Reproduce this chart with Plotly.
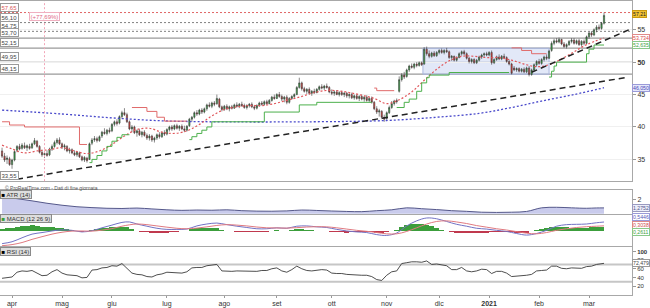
import pandas as pd
import plotly.graph_objects as go

# ---------------- trading days (Borsa Italiana) ----------------
holidays = ["2020-04-10", "2020-04-13", "2020-05-01", "2020-12-24",
            "2020-12-25", "2020-12-31", "2021-01-01"]
dates = [d for d in pd.bdate_range("2020-03-26", "2021-03-10")
         if d.strftime("%Y-%m-%d") not in holidays]
bars = list(range(len(dates)))
month_names = ["apr", "mag", "giu", "lug", "ago", "set", "ott", "nov", "dic",
               "<b>2021</b>", "feb", "mar"]

# ---------------- OHLC ----------------
open_ = [36.3, 35.5, 35.0, 35.1, 34.2, 34.9, 36.4, 37.0, 36.7, 37.1, 36.8, 37.0, 36.8, 37.4,
         37.8, 37.0, 36.1, 35.7, 35.9, 35.7, 36.6, 37.0, 37.6, 38.0,
         37.4, 36.9, 37.0, 36.3, 36.5, 36.0, 35.7, 36.0, 35.4, 34.9,
         35.2, 35.0, 37.5, 38.0, 38.2, 37.9, 38.6, 39.2, 39.0, 39.5,
         39.4, 40.4, 40.8, 40.6, 41.6, 42.2, 41.9, 40.8, 39.7, 40.0,
         39.1, 39.4, 38.8, 39.2, 38.7, 38.3, 38.6, 38.0, 38.3, 38.8,
         38.5, 39.1, 38.9, 39.6, 40.0, 39.7, 40.2, 39.8, 40.1, 39.7,
         39.5, 40.2, 41.2, 41.5, 42.2, 42.0, 42.6, 42.3, 42.8, 43.4,
         43.2, 43.7, 43.6, 44.3, 43.1, 42.7, 43.2, 42.8, 43.1, 42.9,
         43.4, 43.2, 43.5, 43.3, 43.0, 43.3, 43.5, 43.1, 42.9, 43.3,
         43.7, 43.5, 43.9, 43.6, 44.1, 44.6, 44.4, 45.0, 44.7, 44.3,
         44.6, 43.8, 44.4, 44.7, 45.0, 46.1, 46.8, 45.9, 45.5, 45.8,
         45.2, 45.5, 45.3, 45.8, 46.2, 46.0, 46.3, 46.1, 45.4, 45.2,
         45.4, 45.0, 45.3, 45.0, 45.2, 44.8, 45.0, 44.5, 44.8, 44.4,
         44.7, 44.3, 44.6, 44.1, 44.4, 43.8, 42.8, 42.3, 42.4, 41.5,
         41.3, 42.2, 43.0, 43.6, 44.1, 45.5, 47.3, 48.0, 47.8, 48.8,
         49.4, 49.2, 49.7, 49.5, 49.9, 49.7, 52.0, 51.3, 50.9, 51.4,
         51.0, 51.5, 51.8, 51.5, 51.8, 51.6, 50.7, 50.9, 50.3, 50.7,
         51.3, 51.6, 51.3, 50.6, 50.1, 50.4, 49.9, 50.3, 50.8, 51.1,
         51.3, 51.1, 51.5, 49.9, 50.4, 50.8, 50.5, 50.9, 50.7, 50.1,
         49.7, 49.1, 48.8, 49.0, 48.6, 48.9, 48.5, 49.1, 48.1, 48.8,
         49.6, 50.1, 49.8, 50.4, 50.8, 50.6, 51.8, 52.9, 53.3, 53.1,
         53.5, 52.8, 52.4, 52.7, 53.2, 53.4, 52.9, 53.3, 52.7, 53.2,
         52.9, 53.9, 54.5, 54.2, 55.0, 55.4, 55.2, 56.0]
high = [36.8, 36.0, 35.6, 35.4, 35.1, 36.4, 37.2, 37.4, 37.5, 37.6, 37.3, 37.4, 37.6, 38.3,
        38.0, 37.2, 36.5, 36.2, 36.4, 36.8, 37.3, 37.9, 38.3, 38.4,
        37.6, 37.4, 37.2, 36.8, 36.7, 36.4, 36.3, 36.2, 35.6, 35.5,
        35.4, 37.6, 38.3, 38.6, 38.5, 38.7, 39.4, 39.8, 39.7, 39.9,
        40.6, 41.0, 41.2, 41.8, 42.5, 42.9, 42.2, 41.0, 40.3, 40.2,
        39.6, 39.7, 39.4, 39.5, 39.0, 38.9, 38.8, 38.5, 39.0, 39.2,
        39.3, 39.5, 39.8, 40.2, 40.3, 40.4, 40.5, 40.3, 40.4, 40.2,
        40.3, 41.4, 41.7, 42.4, 42.6, 42.8, 42.9, 43.0, 43.6, 43.8,
        43.9, 44.0, 45.0, 44.5, 43.3, 43.4, 43.5, 43.3, 43.4, 43.6,
        43.8, 43.7, 43.9, 43.6, 43.5, 43.7, 43.8, 43.4, 43.5, 43.9,
        44.0, 44.1, 44.2, 44.3, 44.8, 45.0, 45.2, 45.4, 45.0, 44.8,
        44.9, 44.6, 44.9, 45.2, 46.3, 47.6, 47.0, 46.2, 46.0, 46.1,
        45.7, 45.9, 46.0, 46.4, 46.6, 46.5, 46.7, 46.3, 45.8, 45.6,
        45.7, 45.5, 45.6, 45.4, 45.4, 45.2, 45.3, 45.0, 45.1, 44.9,
        45.0, 44.8, 44.9, 44.6, 44.7, 44.0, 43.2, 42.8, 42.6, 41.9,
        42.4, 43.3, 44.0, 44.2, 44.4, 47.8, 48.3, 48.5, 49.0, 49.6,
        49.8, 49.9, 50.0, 50.1, 50.1, 52.3, 52.4, 51.8, 51.6, 51.7,
        51.7, 52.0, 52.1, 52.0, 52.2, 51.8, 51.1, 51.0, 50.9, 51.5,
        51.8, 51.9, 51.5, 50.8, 50.6, 50.6, 50.5, 51.0, 51.3, 51.5,
        51.6, 51.7, 51.8, 50.6, 51.0, 51.2, 51.1, 51.3, 50.9, 50.4,
        49.9, 49.4, 49.2, 49.2, 49.1, 49.2, 49.3, 49.4, 49.0, 49.8,
        50.3, 50.5, 50.6, 51.0, 51.2, 51.9, 53.2, 53.6, 53.7, 53.8,
        53.6, 53.1, 52.9, 53.4, 53.7, 53.7, 53.5, 53.6, 53.4, 53.5,
        54.1, 54.7, 54.8, 55.2, 55.7, 55.8, 56.2, 57.65]
low = [35.2, 34.6, 34.3, 34.0, 33.55, 34.7, 36.1, 36.4, 36.5, 36.6, 36.3, 36.5, 36.6, 37.2,
       36.8, 35.9, 35.4, 35.2, 35.4, 35.5, 36.3, 36.8, 37.3, 37.2,
       36.6, 36.4, 36.1, 35.9, 35.8, 35.5, 35.4, 35.2, 34.7, 34.6,
       34.5, 34.9, 37.2, 37.7, 37.6, 37.7, 38.3, 38.8, 38.7, 39.0,
       39.2, 40.1, 40.2, 40.4, 41.3, 41.7, 40.6, 39.5, 39.2, 38.9,
       38.5, 38.6, 38.4, 38.5, 38.0, 37.9, 37.7, 37.6, 38.0, 38.2,
       38.3, 38.6, 38.7, 39.3, 39.4, 39.5, 39.6, 39.4, 39.5, 39.2,
       39.3, 40.0, 40.8, 41.3, 41.7, 41.8, 42.0, 42.1, 42.5, 43.0,
       42.9, 43.2, 43.4, 42.9, 42.4, 42.5, 42.6, 42.4, 42.7, 42.8,
       43.0, 42.9, 43.1, 42.8, 42.7, 43.0, 42.9, 42.6, 42.7, 43.1,
       43.3, 43.3, 43.4, 43.5, 43.9, 44.2, 44.3, 44.5, 44.0, 43.8,
       43.5, 43.6, 44.2, 44.4, 44.9, 45.9, 45.6, 45.3, 45.1, 45.0,
       44.8, 45.1, 45.2, 45.6, 45.8, 45.7, 45.9, 45.2, 44.9, 44.8,
       44.9, 44.7, 44.8, 44.6, 44.5, 44.4, 44.3, 44.2, 44.2, 44.0,
       44.1, 43.9, 43.9, 43.8, 43.6, 42.6, 42.0, 41.6, 41.2, 40.8,
       41.1, 42.0, 42.8, 43.3, 43.6, 45.3, 47.0, 47.4, 47.6, 48.5,
       49.0, 48.9, 49.2, 49.3, 49.4, 49.6, 51.0, 50.6, 50.7, 50.8,
       50.8, 51.2, 51.3, 51.2, 51.4, 50.5, 50.2, 50.1, 50.1, 50.6,
       51.0, 51.1, 50.4, 49.8, 49.8, 49.7, 49.7, 50.1, 50.5, 50.8,
       50.9, 50.9, 49.6, 49.7, 50.2, 50.3, 50.3, 50.5, 49.9, 49.5,
       48.1, 48.6, 48.5, 48.4, 48.4, 48.3, 48.3, 47.8, 47.9, 48.6,
       49.3, 49.6, 49.6, 50.1, 50.3, 50.5, 51.6, 52.6, 52.9, 52.9,
       52.6, 52.2, 52.1, 52.5, 52.9, 52.7, 52.7, 52.5, 52.4, 52.6,
       52.8, 53.6, 53.9, 54.0, 54.6, 54.9, 55.0, 55.8]
close = [35.5, 34.9, 35.2, 34.2, 34.9, 36.2, 37.0, 36.6, 37.2, 36.8, 37.1, 36.7, 37.4, 37.9,
         37.0, 36.1, 35.7, 35.9, 35.6, 36.6, 37.0, 37.6, 38.0, 37.4,
         36.9, 37.1, 36.3, 36.5, 36.0, 35.7, 36.1, 35.4, 34.9, 35.3,
         34.8, 37.4, 38.0, 38.2, 37.9, 38.5, 39.2, 39.0, 39.5, 39.3,
         40.4, 40.8, 40.5, 41.6, 42.2, 41.9, 40.8, 39.7, 40.0, 39.1,
         39.4, 38.8, 39.2, 38.7, 38.3, 38.6, 38.0, 38.3, 38.8, 38.5,
         39.1, 38.9, 39.6, 40.0, 39.7, 40.2, 39.8, 40.1, 39.7, 39.5,
         40.1, 41.2, 41.5, 42.2, 42.0, 42.6, 42.3, 42.8, 43.4, 43.2,
         43.7, 43.5, 44.4, 43.1, 42.7, 43.2, 42.8, 43.1, 42.9, 43.4,
         43.2, 43.5, 43.3, 43.0, 43.3, 43.5, 43.1, 42.9, 43.3, 43.7,
         43.5, 43.9, 43.6, 44.1, 44.6, 44.4, 45.0, 44.7, 44.3, 44.6,
         43.8, 44.4, 44.7, 45.0, 46.1, 46.8, 45.9, 45.5, 45.8, 45.2,
         45.5, 45.3, 45.8, 46.2, 46.0, 46.3, 46.1, 45.4, 45.2, 45.4,
         45.0, 45.3, 45.0, 45.2, 44.8, 45.0, 44.5, 44.8, 44.4, 44.7,
         44.3, 44.6, 44.1, 44.4, 43.8, 42.8, 42.3, 42.5, 41.5, 41.2,
         42.2, 43.0, 43.6, 44.0, 43.9, 47.3, 48.0, 47.7, 48.8, 49.4,
         49.2, 49.7, 49.5, 49.9, 49.6, 52.0, 51.3, 50.9, 51.4, 51.0,
         51.5, 51.8, 51.5, 51.8, 51.6, 50.7, 50.9, 50.3, 50.7, 51.3,
         51.6, 51.3, 50.6, 50.1, 50.4, 49.9, 50.3, 50.8, 51.1, 51.3,
         51.1, 51.5, 49.9, 50.4, 50.8, 50.5, 50.9, 50.7, 50.1, 49.7,
         48.3, 48.8, 49.0, 48.6, 48.9, 48.5, 49.1, 48.1, 48.8, 49.6,
         50.1, 49.8, 50.4, 50.8, 50.6, 51.7, 52.9, 53.3, 53.1, 53.5,
         52.8, 52.4, 52.7, 53.2, 53.4, 52.9, 53.3, 52.7, 53.2, 52.9,
         53.9, 54.5, 54.2, 55.0, 55.4, 55.2, 56.0, 57.21]

# ---------------- overlays on the price panel ----------------
ma_fast_bar = [0, 4, 9, 14, 19, 24, 29, 34, 39, 44, 49, 54, 59, 64, 69, 74, 79, 84, 89, 94,
               99, 104, 109, 114, 119, 124, 129, 134, 139, 144, 149, 154, 159, 164, 169, 174,
               179, 184, 189, 194, 199, 204, 209, 214, 219, 224, 229, 234, 241]
ma_fast = [37.2, 36.6, 36.0, 36.3, 36.5, 36.8, 36.3, 35.9, 36.3, 37.3, 38.6, 39.6, 39.8, 39.2,
           39.0, 39.4, 40.4, 41.7, 42.7, 43.1, 43.3, 43.3, 43.6, 44.1, 44.6, 45.2, 45.6, 45.6,
           45.3, 44.9, 44.4, 43.6, 44.2, 45.4, 47.2, 48.9, 50.2, 50.9, 50.9, 50.7, 50.7, 50.3,
           49.7, 49.3, 49.6, 50.5, 51.6, 52.7, 53.734]
ma_slow_bar = [0, 24, 44, 64, 84, 124, 154, 174, 191, 204, 216, 229, 241]
ma_slow = [42.6, 42.0, 41.4, 40.95, 40.8, 40.8, 41.0, 41.5, 42.1, 43.0, 44.0, 45.0, 46.05]

stop_red_bar = [0, 3, 9, 31, 34, None, 52, 58, 62, 65, 74, None, 149, 150, 157, None,
                204, 208, 212, 218]
stop_red = [40.8, 40.3, 40.0, 37.3, 37.3, None, 43.0, 42.4, 41.5, 40.9, 40.9, None,
            46.0, 45.6, 45.6, None, 52.2, 51.8, 51.3, 51.3]
stop_green_bar = [35, 36, 38, 40, 42, 44, 46, 48, 51, None,
                  75, 76, 78, 80, 82, 84, 105, 119, 126, 148, None,
                  158, 161, 163, 166, 168, 170, 171, 179, 203, None,
                  219, 220, 221, 222, 234, 235, 237, 241]
stop_green = [34.5, 35.0, 35.6, 36.3, 37.0, 37.8, 38.4, 38.8, 38.8, None,
              38.05, 38.5, 39.0, 39.5, 40.0, 40.8, 42.3, 43.4, 43.8, 43.8, None,
              43.0, 43.8, 44.3, 45.5, 46.8, 47.6, 48.0, 48.4, 48.4, None,
              47.7, 48.6, 49.4, 50.0, 51.3, 52.0, 52.64, 52.64]

levels = [57.65, 56.10, 54.75, 53.70, 52.15, 49.95, 48.15]
level_text = ["57,65", "56,10", "54,75", "53,70", "52,15", "49,95", "48,15"]
low_level, low_text = 33.55, "33,55"
box_bars, box_prices = [168.5, 219], [48.15, 52.15]
trend1_bar, trend1_price = [6, 250.4], [31.95, 47.67]
trend2_bar, trend2_price = [212, 252.2], [48.44, 55.2]
marker_bar, marker_text = 17, "(+77,69%)"

# ---------------- ATR ----------------
atr_bar = [0, 6, 12, 18, 24, 30, 36, 42, 48, 54, 60, 66, 72, 78, 84, 90, 96, 102, 108, 114,
           120, 126, 132, 138, 144, 150, 156, 162, 168, 174, 180, 186, 192, 198, 204, 210,
           216, 222, 228, 234, 238, 241]
atr = [2.30, 2.12, 1.92, 1.70, 1.52, 1.38, 1.30, 1.24, 1.22, 1.26, 1.18, 1.10, 1.05, 1.08,
       1.06, 1.10, 1.02, 0.98, 0.97, 1.00, 1.08, 1.04, 0.99, 0.95, 0.93, 1.02, 1.10, 1.28,
       1.20, 1.12, 1.02, 0.96, 0.88, 0.86, 0.88, 0.95, 1.28, 1.33, 1.28, 1.24, 1.27, 1.2752]

# ---------------- MACD ----------------
macd_bar = [0, 4, 8, 12, 16, 20, 24, 28, 32, 36, 40, 44, 48, 51, 54, 58, 62, 66, 70, 74,
            78, 82, 86, 90, 94, 98, 102, 106, 110, 114, 118, 122, 126, 130, 134, 138, 142,
            146, 150, 154, 158, 162, 166, 170, 174, 178, 182, 186, 190, 194, 198, 202, 206,
            210, 214, 218, 222, 226, 230, 234, 238, 241]
macd = [-0.82, -0.70, -0.45, -0.22, -0.12, -0.02, 0.05, 0.02, -0.08, 0.00,
        0.18, 0.35, 0.52, 0.55, 0.42, 0.28, 0.15, 0.08, 0.08, 0.10,
        0.30, 0.42, 0.48, 0.38, 0.28, 0.20, 0.12, 0.12, 0.18, 0.15,
        0.28, 0.30, 0.24, 0.20, 0.08, -0.02, -0.08, -0.12, -0.25, -0.30,
        -0.15, 0.30, 0.62, 0.80, 0.75, 0.58, 0.40, 0.28, 0.15, 0.10,
        0.02, -0.05, -0.18, -0.28, -0.18, 0.02, 0.28, 0.38, 0.40, 0.42,
        0.50, 0.5446]
signal = [-0.95, -0.88, -0.75, -0.55, -0.38, -0.22, -0.10, -0.03, -0.02, -0.03,
          0.03, 0.13, 0.28, 0.37, 0.42, 0.38, 0.30, 0.22, 0.15, 0.12,
          0.16, 0.24, 0.33, 0.38, 0.35, 0.30, 0.23, 0.18, 0.17, 0.16,
          0.19, 0.23, 0.25, 0.24, 0.18, 0.10, 0.02, -0.04, -0.12, -0.20,
          -0.20, -0.05, 0.18, 0.42, 0.58, 0.62, 0.55, 0.45, 0.32, 0.22,
          0.12, 0.04, -0.06, -0.16, -0.20, -0.12, 0.02, 0.12, 0.20, 0.25,
          0.28, 0.3038]
hist_bar = list(range(0, 242, 2))
hist = [0.13, 0.15, 0.18, 0.22, 0.30, 0.32, 0.33, 0.29, 0.26, 0.22,
        0.20, 0.17, 0.15, 0.09, 0.05, -0.02, -0.06, -0.05, 0.03, 0.09,
        0.15, 0.19, 0.22, 0.24, 0.24, 0.20, 0.10, 0.00, -0.06, -0.10,
        -0.13, -0.15, -0.15, -0.14, -0.10, -0.07, -0.04, -0.02, 0.08, 0.14,
        0.17, 0.18, 0.16, 0.15, 0.06, 0.00, -0.05, -0.07, -0.09, -0.10,
        -0.11, -0.11, -0.08, -0.06, -0.02, 0.01, 0.00, -0.01, 0.04, 0.09,
        0.09, 0.07, 0.03, -0.01, -0.03, -0.04, -0.07, -0.10, -0.11, -0.12,
        -0.11, -0.10, -0.09, -0.08, -0.10, -0.13, -0.12, -0.10, -0.04, 0.05,
        0.22, 0.35, 0.42, 0.44, 0.42, 0.38, 0.28, 0.17, 0.06, -0.04,
        -0.10, -0.15, -0.16, -0.17, -0.17, -0.17, -0.14, -0.12, -0.11, -0.10,
        -0.09, -0.09, -0.11, -0.12, -0.12, -0.12, -0.05, 0.02, 0.09, 0.14,
        0.20, 0.23, 0.22, 0.20, 0.17, 0.16, 0.15, 0.15, 0.20, 0.22,
        0.25]

# ---------------- RSI ----------------
rsi_bar = list(range(0, 242, 2)) + [241]
rsi = [38, 40, 41, 52, 55, 54, 56, 50, 44, 45,
       53, 58, 50, 46, 45, 44, 39, 40, 57, 58,
       62, 63, 67, 66, 72, 60, 50, 47, 46, 42,
       41, 46, 48, 52, 51, 51, 50, 53, 62, 63,
       63, 67, 68, 70, 55, 54, 54, 55, 55, 54,
       54, 54, 56, 56, 60, 62, 55, 52, 58, 66,
       60, 56, 55, 57, 58, 57, 50, 49, 49, 47,
       46, 46, 45, 45, 42, 35, 33, 45, 53, 55,
       72, 74, 76, 76, 75, 78, 70, 71, 69, 67,
       58, 58, 63, 55, 53, 55, 59, 58, 49, 54,
       54, 50, 42, 43, 43, 45, 47, 55, 56, 57,
       66, 66, 61, 60, 62, 61, 61, 65, 66, 70,
       71, 72.479]

# ---------------- figure ----------------
PH = 297.0


def dom(top_px, bot_px):
    return [1 - bot_px / PH, 1 - top_px / PH]


fig = go.Figure()
fig.add_trace(go.Candlestick(
    x=bars, open=open_, high=high, low=low, close=close,
    increasing=dict(fillcolor="#35b043", line=dict(color="#3a3a3a", width=0.6)),
    decreasing=dict(fillcolor="#ea3d38", line=dict(color="#3a3a3a", width=0.6)),
    whiskerwidth=0, xaxis="x", yaxis="y", hoverinfo="skip", showlegend=False))
fig.add_trace(go.Scatter(x=ma_slow_bar, y=ma_slow, mode="lines", line_shape="spline",
                         line=dict(color="#4a4acb", width=1.3, dash="2px,2px"),
                         xaxis="x", yaxis="y", hoverinfo="skip"))
fig.add_trace(go.Scatter(x=ma_fast_bar, y=ma_fast, mode="lines", line_shape="spline",
                         line=dict(color="#e0555a", width=1.2, dash="2px,2px"),
                         xaxis="x", yaxis="y", hoverinfo="skip"))
fig.add_trace(go.Scatter(x=stop_red_bar, y=stop_red, mode="lines", line_shape="hv",
                         line=dict(color="#e06a6a", width=1), connectgaps=False,
                         xaxis="x", yaxis="y", hoverinfo="skip"))
fig.add_trace(go.Scatter(x=stop_green_bar, y=stop_green, mode="lines", line_shape="hv",
                         line=dict(color="#4cb04c", width=1), connectgaps=False,
                         xaxis="x", yaxis="y", hoverinfo="skip"))

# ATR
fig.add_trace(go.Scatter(x=atr_bar, y=atr, mode="lines", line_shape="spline",
                         line=dict(color="#55588a", width=1), fill="tozeroy",
                         fillcolor="#c9cbec", xaxis="x2", yaxis="y2", hoverinfo="skip"))
# MACD
fig.add_trace(go.Bar(x=hist_bar, y=hist, width=2,
                     marker=dict(color=["#3c9e3c" if v >= 0 else "#c0394e" for v in hist],
                                 line=dict(width=0)),
                     xaxis="x3", yaxis="y3", hoverinfo="skip"))
fig.add_trace(go.Scatter(x=macd_bar, y=macd, mode="lines", line_shape="spline",
                         line=dict(color="#7272c4", width=1), xaxis="x3", yaxis="y3",
                         hoverinfo="skip"))
fig.add_trace(go.Scatter(x=macd_bar, y=signal, mode="lines", line_shape="spline",
                         line=dict(color="#e07a80", width=1), xaxis="x3", yaxis="y3",
                         hoverinfo="skip"))
# RSI
fig.add_trace(go.Scatter(x=rsi_bar, y=rsi, mode="lines",
                         line=dict(color="#3a3a3a", width=0.9), xaxis="x4", yaxis="y4",
                         hoverinfo="skip"))

shapes = []
for lv, i in zip(levels, range(len(levels))):
    if i == 0:
        ln = dict(color="#e06666", width=1, dash="2px,2px")
    elif i < 3:
        ln = dict(color="#808080", width=1, dash="2px,2px")
    else:
        ln = dict(color="#9a9a9a", width=1.2)
    shapes.append(dict(type="line", xref="x domain", yref="y", x0=0, x1=1, y0=lv, y1=lv,
                       line=ln, layer="below"))
shapes.append(dict(type="rect", xref="x", yref="y", x0=box_bars[0], x1=box_bars[1],
                   y0=box_prices[0], y1=box_prices[1], fillcolor="rgba(190,205,240,0.45)",
                   line=dict(color="#a9b6df", width=1), layer="below"))
shapes.append(dict(type="line", xref="x", yref="y", x0=trend1_bar[0], x1=trend1_bar[1],
                   y0=trend1_price[0], y1=trend1_price[1],
                   line=dict(color="#222222", width=1.5, dash="6px,4px")))
shapes.append(dict(type="line", xref="x", yref="y", x0=trend2_bar[0], x1=trend2_bar[1],
                   y0=trend2_price[0], y1=trend2_price[1],
                   line=dict(color="#222222", width=1.5, dash="6px,4px")))
shapes.append(dict(type="line", xref="x", yref="y domain", x0=marker_bar, x1=marker_bar,
                   y0=0, y1=1, line=dict(color="#f2a6b8", width=1, dash="2px,2px")))
for lv in (70, 30):
    shapes.append(dict(type="line", xref="x4 domain", yref="y4", x0=0, x1=1, y0=lv, y1=lv,
                       line=dict(color="#c6c6c6", width=2), layer="below"))

ann = []
small = dict(family="Liberation Sans, Arial, sans-serif", size=6)
for lv, t, i in zip(levels, level_text, range(len(levels))):
    col = "#d85a5a" if i == 0 else "#444444"
    ann.append(dict(xref="paper", yref="y", x=0.0, y=lv, xanchor="left", yanchor="bottom",
                    text=t, showarrow=False, font=dict(small, color=col), bgcolor="white",
                    bordercolor="#9a9a9a", borderwidth=1, borderpad=0.5, yshift=1))
ann.append(dict(xref="paper", yref="y", x=0.0, y=low_level, xanchor="left", yanchor="top",
                text=low_text, showarrow=False, font=dict(small, color="#444"),
                bgcolor="white", bordercolor="#9a9a9a", borderwidth=1, borderpad=0.5,
                yshift=-2))
ann.append(dict(xref="x", yref="y", x=marker_bar, y=57.0, xanchor="center",
                yanchor="middle", text=marker_text, showarrow=False,
                font=dict(small, color="#e06a86"), bgcolor="white", bordercolor="#f0b0c0",
                borderwidth=1, borderpad=0.5))
ann.append(dict(xref="paper", yref="paper", x=0.004, y=1 - 188.5 / PH, xanchor="left",
                yanchor="middle", text="© ProRealTime.com - Dati di fine giornata",
                showarrow=False, font=dict(family="Liberation Sans, Arial", size=5,
                                           color="#555")))
for txt, sq, ypx in (("ATR (14)", "#000000", 195), ("MACD (12 26 9)", "#3c9e3c", 220),
                     ("RSI (14)", "#000000", 253)):
    ann.append(dict(xref="paper", yref="paper", x=0.0, y=1 - ypx / PH, xanchor="left",
                    yanchor="middle",
                    text="<span style='color:%s'>■</span> %s" % (sq, txt),
                    showarrow=False, font=dict(small, color="#333"), bgcolor="#dedede",
                    bordercolor="#8a8a8a", borderwidth=1, borderpad=0.5))

right_labels = [
    ("y", close[-1], "57,21", "#222", "#f2c230", "#c99a10", 1),
    ("y", ma_fast[-1], "53,734", "#d84848", "#ffffff", "#e08a8a", 0),
    ("y", stop_green[-1], "52,635", "#3f9f3f", "#ffffff", "#8ac88a", 0),
    ("y", ma_slow[-1], "46,050", "#4848b8", "#e6e8fa", "#9a9ad8", 0),
    ("y2", atr[-1], "1,2752", "#55588a", "#eceefa", "#9a9ac0", 0),
    ("y3", macd[-1], "0,5446", "#5a5ab8", "#ffffff", "#9a9ad8", 5),
    ("y3", signal[-1], "0,3038", "#d04a50", "#ffffff", "#e08a8a", 1),
    ("y3", hist[-1], "0,2611", "#3f9f3f", "#ffffff", "#8ac88a", -5),
    ("y4", rsi[-1], "72,479", "#444444", "#ffffff", "#9a9a9a", 0),
]
for yr, val, t, fc, bg, bc, ys in right_labels:
    ann.append(dict(xref="paper", yref=yr, x=1.0, y=val, xanchor="left", yanchor="middle",
                    text=t, showarrow=False, font=dict(small, color=fc, size=5.2),
                    bgcolor=bg, bordercolor=bc, borderwidth=1, borderpad=0, yshift=ys,
                    xshift=0))

tick_pos = [k for k in range(1, len(dates)) if dates[k].month != dates[k - 1].month]
xr = [-0.82, 252.2]
axis_line = "#a8a8a8"
common_x = dict(range=xr, showgrid=False, zeroline=False, showline=True, mirror=True,
                linecolor=axis_line, linewidth=1, fixedrange=True)
common_y = dict(side="right", showline=True, linecolor=axis_line, linewidth=1,
                zeroline=False, showgrid=False, ticks="outside", ticklen=3,
                tickcolor="#999999", tickfont=dict(size=7, color="#333"), fixedrange=True)

fig.update_layout(
    width=650, height=308, margin=dict(l=0, r=18, t=0, b=11),
    paper_bgcolor="white", plot_bgcolor="white", showlegend=False, hovermode=False,
    font=dict(family="Liberation Sans, Arial, sans-serif", size=7, color="#333"),
    bargap=0,
    xaxis=dict(common_x, domain=[0, 1], anchor="y", showticklabels=False,
               rangeslider=dict(visible=False)),
    xaxis2=dict(common_x, domain=[0, 1], anchor="y2", showticklabels=False, matches="x"),
    xaxis3=dict(common_x, domain=[0, 1], anchor="y3", showticklabels=False, matches="x"),
    xaxis4=dict(common_x, domain=[0, 1], anchor="y4", matches="x", showticklabels=True,
                tickvals=tick_pos, ticktext=month_names, ticks="outside", ticklen=2,
                tickcolor="#999999", tickfont=dict(size=7, color="#333")),
    yaxis=dict(common_y, domain=dom(0, 182), anchor="x", range=[31.64, 59.43],
               tickvals=[35, 40, 45, 50, 55], ticktext=["35", "40", "45", "<b>50</b>", "55"],
               showgrid=True, gridcolor="#f0f0f0"),
    yaxis2=dict(common_y, domain=dom(191, 215), anchor="x2", range=[0.732, 2.906],
                tickvals=[2], ticktext=["2"]),
    yaxis3=dict(common_y, domain=dom(216, 248), anchor="x3", range=[-1.0, 1.0],
                showticklabels=False, ticks=""),
    yaxis4=dict(common_y, domain=dom(249, 297), anchor="x4", range=[-0.57, 109.1],
                tickvals=[20, 40, 60, 80, 100],
                ticktext=["20", "40", "60", "80", "<b>100</b>"],
                tickfont=dict(size=6, color="#333")),
    shapes=shapes, annotations=ann,
)

fig.write_html("out.html", config={"displayModeBar": False, "staticPlot": True})
